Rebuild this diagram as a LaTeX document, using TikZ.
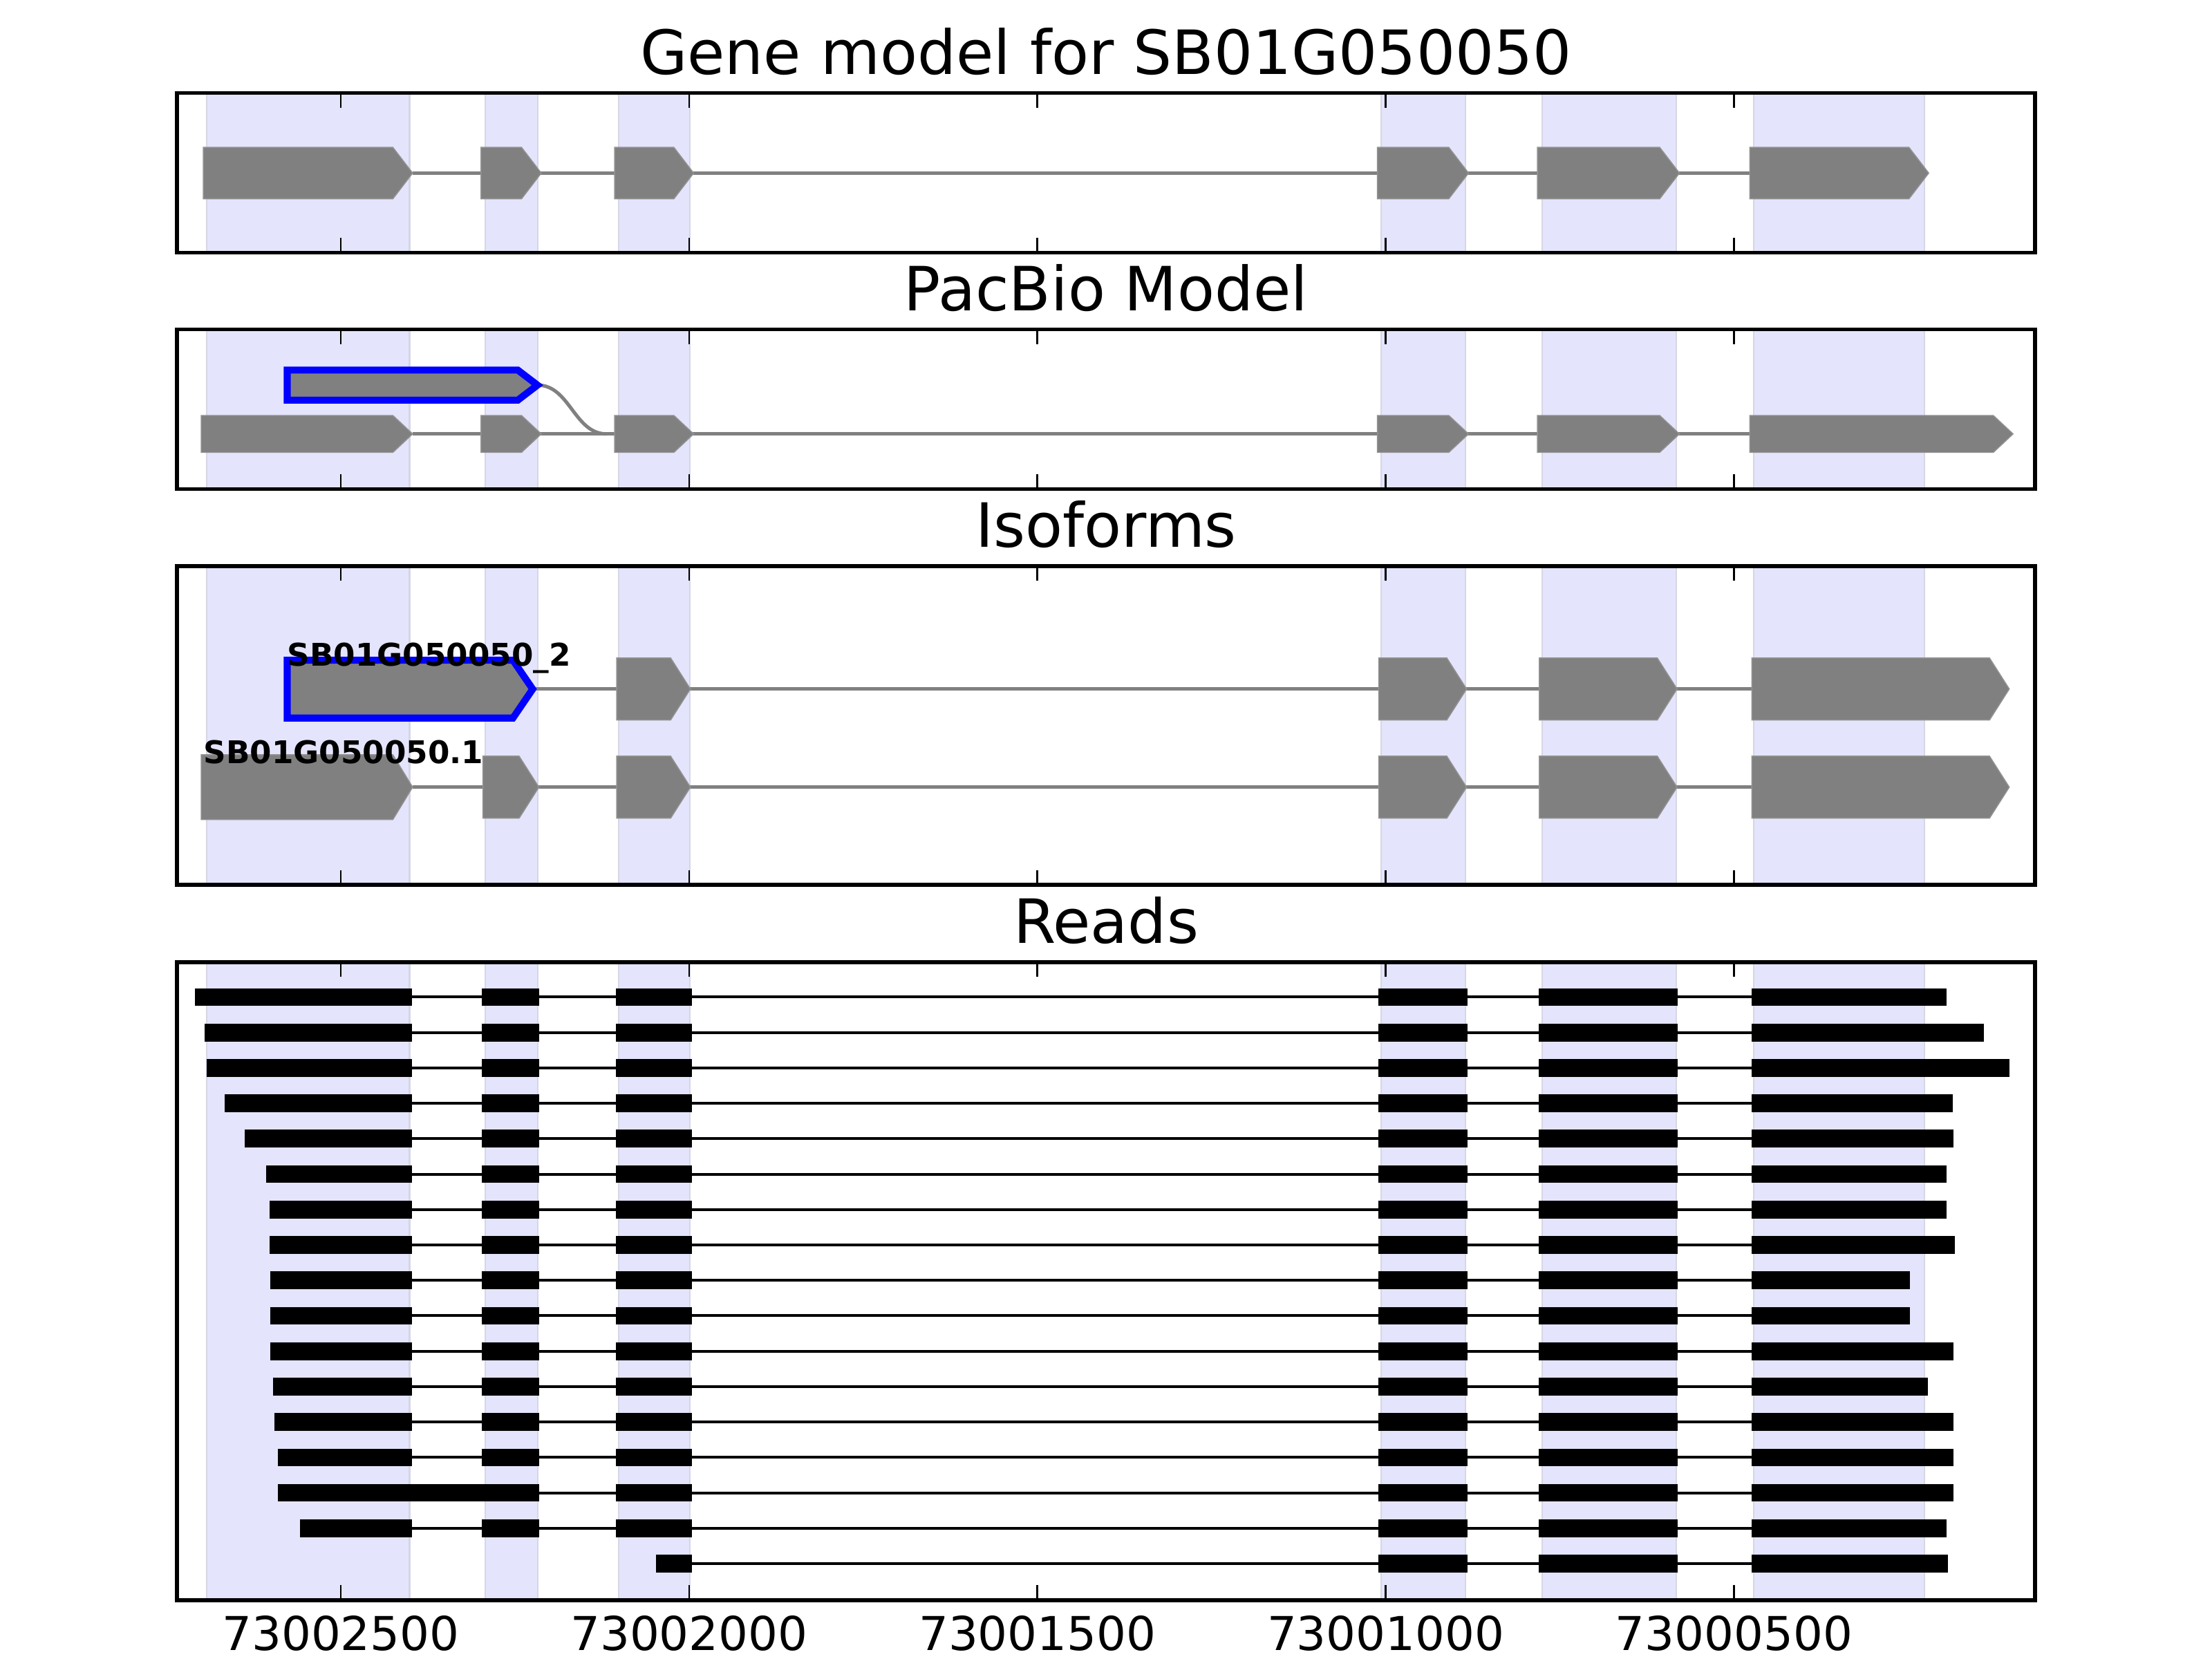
\documentclass[tikz,border=0pt]{standalone}
\usepackage{fontspec}
\setmainfont{DejaVu Sans}
\usepackage{tikz}
\definecolor{exongray}{RGB}{128,128,128}
\definecolor{spanblue}{RGB}{228,228,252}
\definecolor{spanedge}{RGB}{214,214,230}
\definecolor{isoblue}{RGB}{0,0,255}

% exon arrow: [style]{start}{tip}{y centre}{half height}
\newcommand{\exonarrow}[5][exon]{%
  \filldraw[#1] (#2,#4-#5) -- (#3-14,#4-#5) -- (#3,#4) -- (#3-14,#4+#5) -- (#2,#4+#5) -- cycle;}

\begin{document}
\begin{tikzpicture}[
    x=0.01cm, y=-0.01cm,
    panel/.style={draw=black, line width=0.75pt},
    span/.style={fill=spanblue, draw=spanedge, line width=0.3pt},
    exon/.style={fill=exongray, draw=exongray!85!white, line width=0.2pt},
    intron/.style={draw=exongray, line width=0.7pt},
    pacbio/.style={fill=exongray, draw=isoblue, line width=1.4pt, miter limit=4},
    readblock/.style={fill=black},
    readline/.style={draw=black, line width=0.55pt},
    tickmark/.style={draw=black, line width=0.4pt},
    paneltitle/.style={font=\fontsize{12.3}{14}\selectfont, anchor=base},
    ticklabel/.style={font=\fontsize{9.4}{11}\selectfont, anchor=base},
    isolabel/.style={font=\bfseries\fontsize{6.3}{7}\selectfont, anchor=base west, inner sep=0pt}
]
\useasboundingbox (0,0) rectangle (1568,1176);

% Shaded exon columns and inward ticks in every panel
\foreach \ytop/\ybot in {66/179, 233.6/346.7, 401.3/627.2, 682/1134.3} {
  \foreach \xa/\xb in {146.6/290.3, 344/381.4, 438.6/488.9, 979/1039, 1093/1188.1, 1243/1364.1}
    \filldraw[span] (\xa,\ytop) rectangle (\xb,\ybot);
  \foreach \xt in {241.6, 488.5, 735.4, 982.3, 1229.2} {
    \draw[tickmark] (\xt,\ytop) -- ++(0,10.5);
    \draw[tickmark] (\xt,\ybot) -- ++(0,-10.5);
  }
}

% Titles
\node[paneltitle] (genetitle) at (784,52.6) {Gene model for SB01G050050};
\node[paneltitle] (pacbiotitle) at (784,220.2) {PacBio Model};
\node[paneltitle] (isotitle) at (784,387.9) {Isoforms};
\node[paneltitle] (readstitle) at (784,668.6) {Reads};

% Gene model
\draw[intron] (292.5,122.7) -- (1240.4,122.7);
\exonarrow{144.1}{292.5}{122.7}{18.25}
\exonarrow{341}{383.7}{122.7}{18.25}
\exonarrow{435.7}{491.7}{122.7}{18.25}
\exonarrow{976.4}{1041}{122.7}{18.25}
\exonarrow{1089.8}{1190.5}{122.7}{18.25}
\exonarrow{1240.4}{1367.2}{122.7}{18.25}

% PacBio model - lower track plus the new first exon joined by a curve
\draw[intron] (292.5,307.6) -- (1240.4,307.6);
\draw[intron] (381,273) .. controls (404,273) and (407,307.6) .. (430,307.6);
\exonarrow{142.6}{292.5}{307.6}{13.1}
\exonarrow{341}{383.7}{307.6}{13.1}
\exonarrow{435.7}{491.7}{307.6}{13.1}
\exonarrow{976.4}{1041}{307.6}{13.1}
\exonarrow{1089.8}{1190.5}{307.6}{13.1}
\exonarrow{1240.4}{1427}{307.6}{13.1}
\exonarrow[pacbio]{203.6}{381}{273}{10.7}

% Isoforms
\draw[intron] (377.6,488.4) -- (1241.8,488.4);
\draw[intron] (292.5,558) -- (1241.8,558);
\exonarrow[pacbio]{203.6}{377.6}{488.5}{20.5}
\foreach \ya in {488.4, 558} {
  \exonarrow{437.1}{489.4}{\ya}{22}
  \exonarrow{977.3}{1039.6}{\ya}{22}
  \exonarrow{1091.2}{1188.8}{\ya}{22}
  \exonarrow{1241.8}{1424.3}{\ya}{22}
}
\exonarrow{142.6}{292.5}{558}{23}
\exonarrow{342.3}{382}{558}{22}
\node[isolabel] (isotwolabel) at (203,472) {SB01G050050\_2};
\node[isolabel] (isoonelabel) at (143.8,541.4) {SB01G050050.1};

% Reads: start/end of each read, six aligned blocks
\foreach \s/\e [count=\r] in {138.1/1379.8, 145.1/1406.3, 146.6/1424.4, 159.4/1384.1,
    173.3/1384.5, 188.6/1379.8, 191.1/1379.8, 191.1/1385.6, 191.6/1353.7, 191.6/1353.7,
    191.6/1384.5, 193.6/1366.5, 194.6/1384.5, 197.1/1384.5, 197.1/1384.5, 212.6/1379.8} {
  \pgfmathsetmacro{\yr}{706.8+25.1*(\r-1)}
  \draw[readline] (\s,\yr) -- (\e,\yr);
  \foreach \xa/\xb in {\s/291.8, 341.6/382.3, 436.8/490.3, 977.3/1040.1, 1090.9/1189.4, 1241.5/\e}
    \fill[readblock] (\xa,\yr-6.3) rectangle (\xb,\yr+6.3);
}
% read 15 keeps the first intron
\fill[readblock] (291.8,1051.9) rectangle (341.6,1064.5);
% read 17 starts inside exon 3
\draw[readline] (465.1,1108.4) -- (1380.6,1108.4);
\foreach \xa/\xb in {465.1/490.3, 977.3/1040.1, 1090.9/1189.4, 1241.5/1380.6}
  \fill[readblock] (\xa,1102.1) rectangle (\xb,1114.7);

% Panel frames
\draw[panel] (125.5,66) rectangle (1442.5,179);
\draw[panel] (125.5,233.6) rectangle (1442.5,346.7);
\draw[panel] (125.5,401.3) rectangle (1442.5,627.2);
\draw[panel] (125.5,682) rectangle (1442.5,1134.3);

% Axis labels
\node[ticklabel] (tickone) at (241.6,1169.8) {73002500};
\node[ticklabel] (ticktwo) at (488.5,1169.8) {73002000};
\node[ticklabel] (tickthree) at (735.4,1169.8) {73001500};
\node[ticklabel] (tickfour) at (982.3,1169.8) {73001000};
\node[ticklabel] (tickfive) at (1229.2,1169.8) {73000500};

\end{tikzpicture}
\end{document}
